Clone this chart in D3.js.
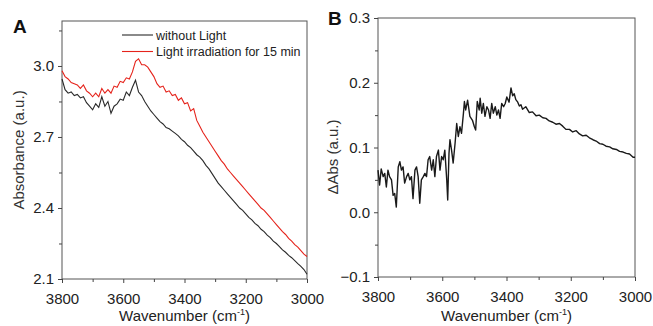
<!DOCTYPE html>
<html>
<head>
<meta charset="utf-8">
<script src="https://cdn.jsdelivr.net/npm/d3@7"></script>
<style>
  body { margin: 0; background: #fff; }
  svg { display: block; font-family: "Liberation Sans", Arial, sans-serif; }
  .axis path, .axis line { stroke: #444; }
  .axis text { fill: #222; font-size: 15px; font-family: "Liberation Sans", Arial, sans-serif; }
</style>
</head>
<body>
<div id="mainbox"></div>
<script>
// panel A: absorbance spectra
const wavA = [3800,3790,3780,3770,3760,3750,3740,3730,3720,3710,3700,3690,3680,3670,3660,3650,3640,3630,3620,3610,
  3600,3590,3580,3570,3560,3550,3540,3530,3520,3510,3500,3490,3480,3470,3460,3450,3440,3430,3420,3410,
  3400,3390,3380,3370,3360,3350,3340,3330,3320,3310,3300,3290,3280,3270,3260,3250,3240,3230,3220,3210,
  3200,3190,3180,3170,3160,3150,3140,3130,3120,3110,3100,3090,3080,3070,3060,3050,3040,3030,3020,3010,3000];

const absDark = [2.945,2.90,2.885,2.89,2.875,2.88,2.865,2.87,2.845,2.83,2.815,2.84,2.825,2.87,2.83,2.85,2.80,2.83,2.84,2.86,
  2.855,2.89,2.875,2.91,2.94,2.89,2.875,2.85,2.83,2.81,2.795,2.78,2.765,2.755,2.74,2.735,2.725,2.715,2.705,2.69,
  2.68,2.665,2.655,2.64,2.625,2.615,2.60,2.58,2.565,2.545,2.525,2.505,2.49,2.475,2.46,2.445,2.43,2.415,2.40,2.39,
  2.375,2.36,2.35,2.335,2.325,2.31,2.30,2.285,2.275,2.26,2.25,2.237,2.223,2.213,2.20,2.19,2.178,2.165,2.153,2.14,2.12];

const absLight = [2.98,2.955,2.945,2.93,2.925,2.92,2.905,2.92,2.895,2.885,2.87,2.885,2.87,2.905,2.885,2.90,2.885,2.915,2.91,2.935,
  2.93,2.95,2.945,2.975,3.02,3.03,3.005,3.005,2.995,2.975,2.955,2.925,2.91,2.915,2.89,2.895,2.875,2.88,2.855,2.865,
  2.84,2.845,2.81,2.82,2.77,2.745,2.72,2.70,2.68,2.66,2.64,2.62,2.60,2.585,2.565,2.55,2.535,2.52,2.505,2.49,
  2.475,2.46,2.445,2.43,2.415,2.40,2.39,2.375,2.36,2.345,2.33,2.315,2.30,2.288,2.272,2.26,2.245,2.235,2.22,2.205,2.195];

const legendA = ['without Light', 'Light irradiation for 15 min'];
const ticksA_y = [2.1, 2.4, 2.7, 3.0];
const ticksX = [3800, 3600, 3400, 3200, 3000];

// panel B: difference spectrum
const wavB = [3800,3795,3790,3784,3779,3774,3769,3764,3758,3753,3748,3743,3737,3732,3727,3722,3717,3711,3706,3701,
  3696,3691,3685,3680,3675,3670,3665,3659,3654,3649,3644,3639,3633,3628,3623,3618,3612,3607,3602,3597,
  3592,3586,3583,3579,3576,3571,3566,3560,3555,3550,3545,3540,3534,3531,3527,3521,3514,3506,3500,3496,
  3491,3485,3482,3477,3472,3467,3461,3456,3451,3446,3441,3435,3430,3425,3420,3415,3409,3404,3399,3392,
  3386,3381,3376,3371,3365,3360,3355,3350,3340,3329,3319,3308,3298,3287,3277,3267,3256,3246,3235,3225,
  3215,3204,3194,3183,3173,3163,3152,3142,3131,3121,3110,3100,3090,3079,3069,3058,3048,3037,3027,3017,3006,3000];

const dAbs = [0.065,0.042,0.067,0.055,0.060,0.039,0.065,0.055,0.050,0.026,0.029,0.008,0.070,0.078,0.065,0.070,0.045,0.055,0.060,0.050,
  0.055,0.021,0.065,0.070,0.055,0.014,0.050,0.055,0.060,0.055,0.081,0.086,0.065,0.081,0.055,0.086,0.096,0.065,0.086,0.081,
  0.096,0.050,0.019,0.091,0.112,0.096,0.076,0.107,0.137,0.117,0.132,0.122,0.153,0.171,0.158,0.173,0.148,0.142,0.132,0.127,
  0.171,0.158,0.176,0.153,0.168,0.148,0.163,0.158,0.145,0.168,0.153,0.163,0.150,0.158,0.145,0.168,0.163,0.168,0.178,0.170,
  0.192,0.180,0.183,0.174,0.170,0.164,0.166,0.159,0.163,0.154,0.155,0.149,0.150,0.146,0.145,0.141,0.139,0.136,0.137,0.133,
  0.128,0.128,0.124,0.126,0.121,0.118,0.119,0.115,0.112,0.110,0.106,0.105,0.102,0.101,0.098,0.097,0.094,0.093,0.091,0.090,0.085,0.085];

const ticksB_y = [-0.1, 0.0, 0.1, 0.2, 0.3];

const W = 653, H = 326;
const svg = d3.select('#mainbox').append('svg')
  .attr('width', W).attr('height', H);

function panel(box, xDom, yDom, yTicks, yMinor, yFmt) {
  const x = d3.scaleLinear().domain(xDom).range([box.l, box.r]);
  const y = d3.scaleLinear().domain(yDom).range([box.b, box.t]);
  const g = svg.append('g');

  g.append('rect')
    .attr('x', box.l).attr('y', box.t)
    .attr('width', box.r - box.l).attr('height', box.b - box.t)
    .attr('fill', 'none').attr('stroke', '#555').attr('stroke-width', 1);

  // minor ticks
  g.append('g').attr('class', 'axis')
    .attr('transform', `translate(0,${box.b})`)
    .call(d3.axisBottom(x).tickValues(d3.range(3700, 3000, -200)).tickSize(3).tickFormat(''))
    .call(s => s.select('.domain').remove());
  g.append('g').attr('class', 'axis')
    .attr('transform', `translate(${box.l},0)`)
    .call(d3.axisLeft(y).tickValues(yMinor).tickSize(3).tickFormat(''))
    .call(s => s.select('.domain').remove());

  // major ticks
  g.append('g').attr('class', 'axis')
    .attr('transform', `translate(0,${box.b})`)
    .call(d3.axisBottom(x).tickValues(ticksX).tickSize(4).tickPadding(10).tickFormat(d3.format('d')))
    .call(s => s.select('.domain').remove());
  g.append('g').attr('class', 'axis')
    .attr('transform', `translate(${box.l},0)`)
    .call(d3.axisLeft(y).tickValues(yTicks).tickSize(4).tickPadding(4).tickFormat(yFmt))
    .call(s => s.select('.domain').remove());

  // x title
  const xt = g.append('text')
    .attr('x', (box.l + box.r) / 2).attr('y', 321)
    .attr('text-anchor', 'middle').attr('font-size', 15).attr('fill', '#222')
    .text('Wavenumber (cm');
  xt.append('tspan').attr('dy', -6).attr('font-size', 9).text('-1');
  xt.append('tspan').attr('dy', 6).text(')');

  return {x, y, g};
}

// ---- A ----
const A = panel({l: 62, r: 307, t: 21, b: 279}, [3800, 3000], [2.1, 3.19],
  ticksA_y, [2.25, 2.55, 2.85, 3.15], d3.format('.1f'));

const lineA = d3.line().x((d, i) => A.x(wavA[i])).y(d => A.y(d));
A.g.append('path').datum(absDark).attr('d', lineA)
  .attr('fill', 'none').attr('stroke', '#2a2a2a').attr('stroke-width', 1.1);
A.g.append('path').datum(absLight).attr('d', lineA)
  .attr('fill', 'none').attr('stroke', '#e5231b').attr('stroke-width', 1.1);

const legColors = ['#2a2a2a', '#e5231b'];
legendA.forEach((t, i) => {
  const yy = 35 + i * 16.5;
  A.g.append('line').attr('x1', 122).attr('x2', 153).attr('y1', yy).attr('y2', yy)
    .attr('stroke', legColors[i]).attr('stroke-width', 1.1);
  A.g.append('text').attr('x', 156).attr('y', yy + 4.5)
    .attr('font-size', 12.5).attr('fill', '#222').text(t);
});

svg.append('text').attr('transform', 'translate(24,150) rotate(-90)')
  .attr('text-anchor', 'middle').attr('font-size', 15).attr('fill', '#333')
  .text('Absorbance (a.u.)');
svg.append('text').attr('x', 13).attr('y', 33)
  .attr('font-size', 19).attr('font-weight', 'bold').attr('fill', '#111').text('A');

// ---- B ----
const B = panel({l: 378, r: 635, t: 18, b: 277}, [3800, 3000], [-0.1, 0.3],
  ticksB_y, [-0.05, 0.05, 0.15, 0.25], d3.format('.1f'));

const lineB = d3.line().x((d, i) => B.x(wavB[i])).y(d => B.y(d));
B.g.append('path').datum(dAbs).attr('d', lineB)
  .attr('fill', 'none').attr('stroke', '#1a1a1a').attr('stroke-width', 1.4)
  .attr('stroke-linejoin', 'round');

svg.append('text').attr('transform', 'translate(338,157) rotate(-90)')
  .attr('text-anchor', 'middle').attr('font-size', 15).attr('fill', '#333')
  .text('\u0394Abs (a.u.)');
svg.append('text').attr('x', 328).attr('y', 25)
  .attr('font-size', 19).attr('font-weight', 'bold').attr('fill', '#111').text('B');
</script>
</body>
</html>
